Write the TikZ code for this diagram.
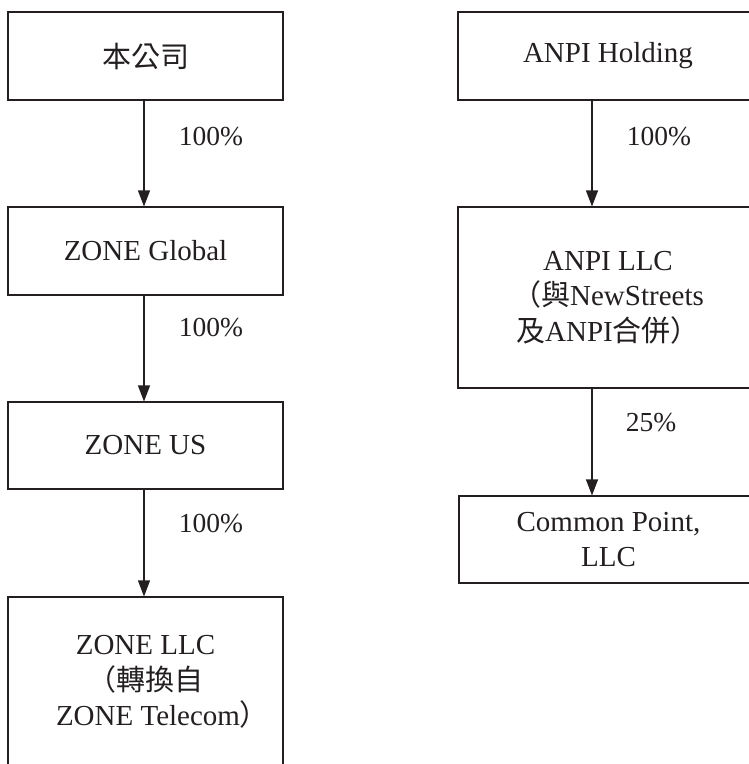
\documentclass[tikz,border=0pt]{standalone}
\usepackage{fontspec}
\setmainfont{Liberation Serif}
\newfontfamily\cjk{Noto Sans CJK TC}
\usetikzlibrary{arrows.meta}
\definecolor{ink}{HTML}{231F20}
\tikzset{
  box/.style={draw=ink, line width=1.1pt, rectangle, inner sep=0pt, align=center, text=ink,
    font=\fontsize{29}{35.5}\selectfont},
  pct/.style={inner sep=0pt, text=ink, font=\fontsize{27.5}{32}\selectfont},
  link/.style={draw=ink, line width=1.1pt, -{Triangle[length=16pt,width=12pt]}}
}
\begin{document}
\begin{tikzpicture}[x=1pt,y=-1pt]
\useasboundingbox (0,0) rectangle (749,764);
\clip (0,0) rectangle (749,764);
% left column
\node[box, minimum width=275pt, minimum height=88pt] (co) at (145.5,56) {{\cjk 本公司}};
\node[box, minimum width=275pt, minimum height=88pt] (zg) at (145.5,251) {ZONE Global};
\node[box, minimum width=275pt, minimum height=87pt] (zus) at (145.5,445.5) {ZONE US};
\node[box, minimum width=275pt, minimum height=170pt] (zllc) at (145.5,682) {ZONE LLC\\{\cjk （轉換自}\\\hspace*{34pt}ZONE Telecom{\cjk ）}};
% right column
\node[box, minimum width=300pt, minimum height=88pt] (ah) at (608,56) {ANPI Holding};
\node[box, minimum width=300pt, minimum height=181pt] (allc) at (608,297.5) {ANPI LLC\\{\cjk （與}NewStreets\\{\cjk 及}ANPI{\cjk 合併）}};
\node[box, minimum width=299pt, minimum height=87pt] (cp) at (608.5,539.5) {Common Point,\\LLC};
% arrow lanes
\coordinate (lx) at (144,0);
\coordinate (rx) at (592,0);
\draw[link] (co.south -| lx) -- (zg.north -| lx);
\draw[link] (zg.south -| lx) -- (zus.north -| lx);
\draw[link] (zus.south -| lx) -- (zllc.north -| lx);
\draw[link] (ah.south -| rx) -- (allc.north -| rx);
\draw[link] (allc.south -| rx) -- (cp.north -| rx);
% labels
\node[pct] (p1) at (211,137) {100\%};
\node[pct] (p2) at (211,328) {100\%};
\node[pct] (p3) at (211,524) {100\%};
\node[pct] (p4) at (659,137) {100\%};
\node[pct] (p5) at (651,423) {25\%};
\end{tikzpicture}
\end{document}
